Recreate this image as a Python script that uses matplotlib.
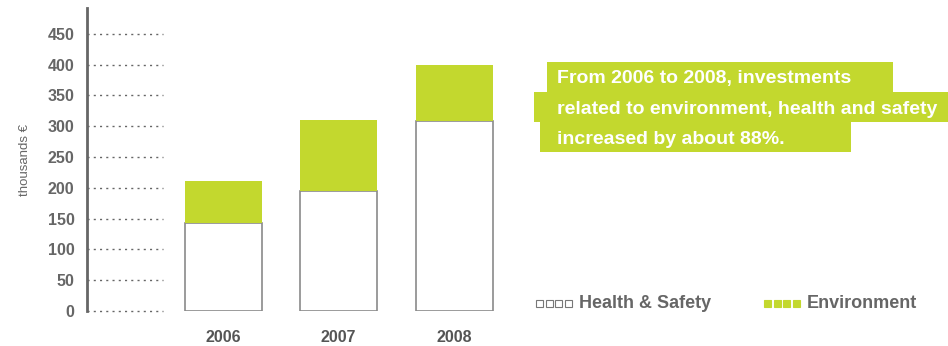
import numpy as np
import matplotlib.pyplot as plt
from matplotlib.patches import Rectangle

years = ['2006', '2007', '2008']
health_safety = [143, 195, 309]
environment = [68, 115, 91]
yticks = [0, 50, 100, 150, 200, 250, 300, 350, 400, 450]
note_lines = ['From 2006 to 2008, investments',
              'related to environment, health and safety',
              'increased by about 88%.']

green = '#c3d82e'
grey = '#666666'
W, H = 948, 346

plt.rcParams['font.family'] = ['Liberation Sans', 'DejaVu Sans']

fig = plt.figure(figsize=(W / 100, H / 100), dpi=100)
ax = fig.add_axes([87 / W, 35 / H, 423 / W, 303 / H])

x = np.arange(len(years))
width = 0.667
ax.bar(x, health_safety, width, color='white', edgecolor='#8a8a8a', lw=1.2)
ax.bar(x, environment, width, bottom=health_safety, color=green, lw=0)

for y in yticks:
    ax.axhline(y, xmin=0, xmax=0.18, color=grey, lw=1, ls=(0, (1.5, 3)),
               clip_on=False)

ax.set_xlim(-1.182, 2.485)
ax.set_ylim(0, 492)
ax.set_yticks(yticks)
ax.set_xticks(x, years)
ax.tick_params(axis='y', length=0, pad=9, labelsize=11.5, labelcolor=grey)
ax.tick_params(axis='x', length=0, pad=14, labelsize=11.5, labelcolor='#555555')
for lab in ax.get_yticklabels() + ax.get_xticklabels():
    lab.set_fontweight('bold')
for s in ['top', 'right', 'bottom']:
    ax.spines[s].set_visible(False)
ax.spines['left'].set_color(grey)
ax.spines['left'].set_linewidth(2)
ax.spines['left'].set_zorder(5)
ax.set_ylabel('thousands €', fontsize=9.5, color=grey, labelpad=12)

# note box with staggered green backgrounds
boxes = [(547, 62, 893), (534, 92, 948), (540, 122, 851)]
for (x0, y0, x1), line in zip(boxes, note_lines):
    fig.patches.append(Rectangle((x0 / W, 1 - (y0 + 30) / H), (x1 - x0) / W, 30 / H,
                                 transform=fig.transFigure, color=green, lw=0))
    fig.text(557 / W, 1 - (y0 + 17) / H, line, color='white', fontsize=14,
             fontweight='bold', va='center', ha='left')

# legend
def legend_item(x0, fill, edge, label):
    for i in range(4):
        fig.patches.append(Rectangle(((x0 + i * 9.5) / W, 1 - 307 / H), 7 / W, 7 / H,
                                     transform=fig.transFigure, facecolor=fill,
                                     edgecolor=edge, lw=0.8))
    fig.text((x0 + 43) / W, 1 - 303 / H, label, color=grey, fontsize=13,
             fontweight='bold', va='center', ha='left')

legend_item(536, 'white', '#777777', 'Health & Safety')
legend_item(764, green, green, 'Environment')

fig.savefig('out.png', dpi=100)
